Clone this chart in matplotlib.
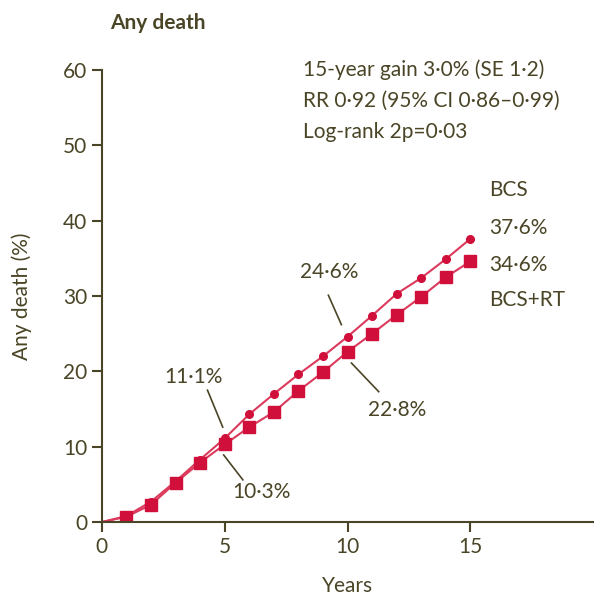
import matplotlib
matplotlib.use("Agg")
from matplotlib import pyplot as plt

years = list(range(16))
bcs = [0, 0.8, 2.7, 5.4, 8.3, 11.1, 14.3, 17.0, 19.6, 22.0, 24.6, 27.4, 30.3, 32.4, 34.9, 37.6]
bcs_rt = [0, 0.7, 2.3, 5.2, 7.9, 10.3, 12.6, 14.6, 17.4, 19.9, 22.6, 25.0, 27.5, 29.9, 32.5, 34.6]
x_ticks = [0, 5, 10, 15]
y_ticks = [0, 10, 20, 30, 40, 50, 60]
stats_lines = ["15-year gain 3·0% (SE 1·2)", "RR 0·92 (95% CI 0·86–0·99)", "Log-rank 2p=0·03"]

ink = "#4a4526"
red = "#d0103a"
pink = "#dc3a5c"

plt.rcParams["font.family"] = ["Lato", "DejaVu Sans"]
fs = 15

fig = plt.figure(figsize=(6.06, 5.98), dpi=100)
ax = fig.add_axes([0.168, 0.127, 0.811, 0.756])

ax.plot(years, bcs, color=pink, lw=1.5, marker="o", ms=5.5, mfc=red, mec=red,
        markevery=range(1, 16))
ax.plot(years, bcs_rt, color=pink, lw=1.5, marker="s", ms=8, mfc=red, mec=red,
        markevery=range(1, 16))

ax.set_xlim(0, 20)
ax.set_ylim(0, 60)
ax.set_xticks(x_ticks)
ax.set_yticks(y_ticks)
for side in ["top", "right"]:
    ax.spines[side].set_visible(False)
for side in ["left", "bottom"]:
    ax.spines[side].set_color(ink)
    ax.spines[side].set_linewidth(1.5)
ax.tick_params(colors=ink, width=1.5, length=7, labelsize=fs)
ax.set_xlabel("Years", color=ink, fontsize=fs, labelpad=14)
ax.set_ylabel("Any death (%)", color=ink, fontsize=fs, labelpad=22)

fig.text(0.26, 0.962, "Any death", color=ink, fontsize=fs, fontweight="bold", ha="center", va="center")

for i, line in enumerate(stats_lines):
    ax.text(8.2, 60.0 - 4.1 * i, line, color=ink, fontsize=fs, va="center")

# point labels with leader lines
labels = [
    ("11·1%", (3.73, 19.3), (4.30, 17.5), (4.92, 12.6)),
    ("10·3%", (6.48, 4.0), (4.96, 8.9), (5.74, 5.6)),
    ("24·6%", (9.26, 33.2), (9.22, 30.1), (9.75, 26.2)),
    ("22·8%", (12.0, 14.9), (10.16, 21.1), (11.27, 17.3)),
]
for text, pos, p0, p1 in labels:
    ax.text(pos[0], pos[1], text, color=ink, fontsize=fs, ha="center", va="center")
    ax.plot([p0[0], p1[0]], [p0[1], p1[1]], color=ink, lw=1.2)

for text, y in [("BCS", 44.1), ("37·6%", 39.0), ("34·6%", 34.1), ("BCS+RT", 29.5)]:
    ax.text(15.78, y, text, color=ink, fontsize=fs, va="center")

fig.savefig("out.png", dpi=100)
